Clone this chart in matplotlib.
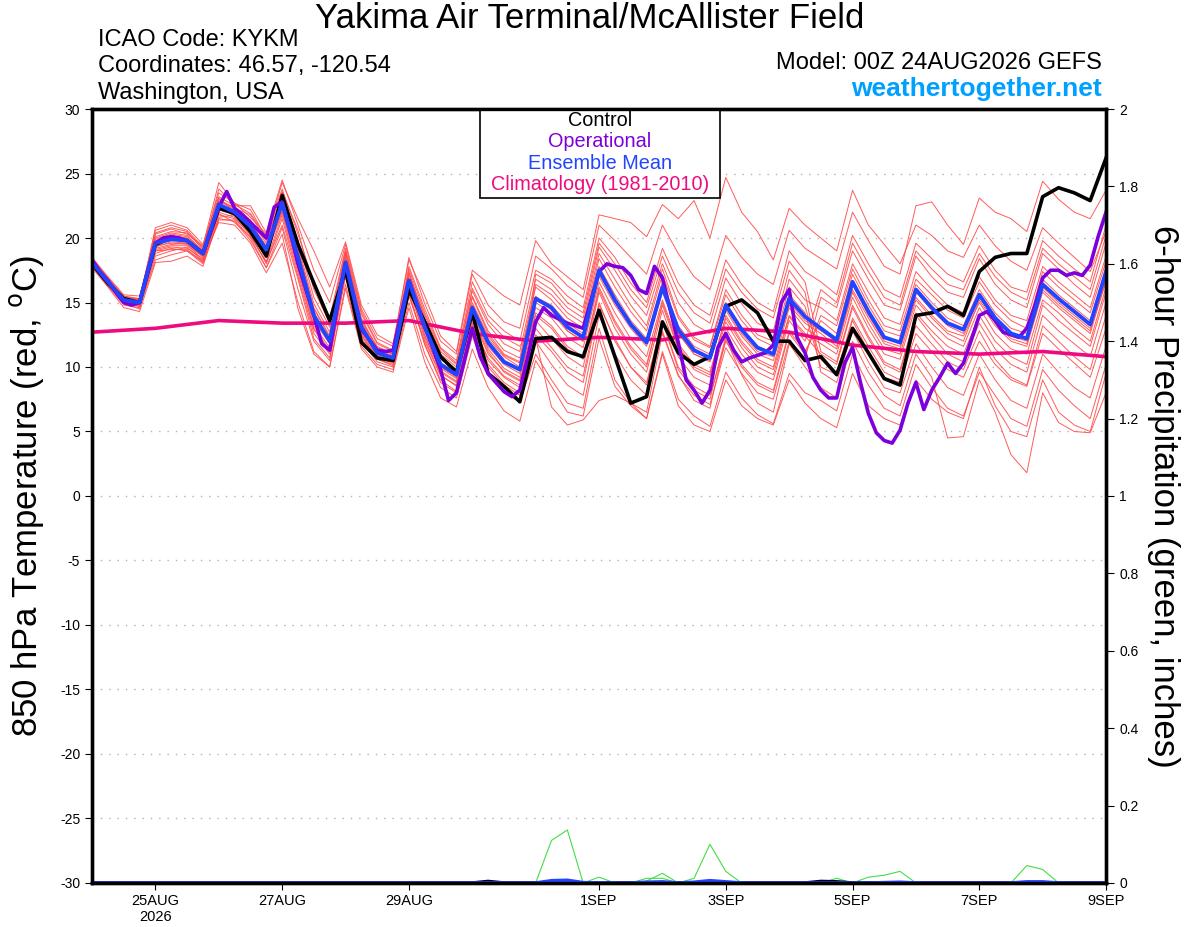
import numpy as np
import matplotlib
matplotlib.use('Agg')
import matplotlib.pyplot as plt
from matplotlib.patches import Rectangle

plt.rcParams['font.family'] = ['Liberation Sans', 'DejaVu Sans']
plt.rcParams['axes.unicode_minus'] = False

# forecast hours (6-hourly for ensemble, 3-hourly for operational)
hours_6 = np.arange(0, 385, 6)
hours_3 = np.arange(0, 385, 3)
clim_days = np.arange(0, 17)

tick_days = [1, 3, 5, 8, 10, 12, 14, 16]
tick_labels = ['25AUG\n2026', '27AUG', '29AUG', '1SEP', '3SEP', '5SEP', '7SEP', '9SEP']

# 850 hPa temperature, ensemble mean
ens_mean = [18.1, 16.6, 15.2, 15.0, 19.6, 19.9, 19.8, 18.8, 22.6, 22.0, 20.9, 19.1, 22.7,
            18.5, 14.0, 12.0, 18.1, 13.1, 11.1, 10.7, 16.7, 13.1, 10.2, 9.4, 14.6, 11.9, 10.4, 9.8,
            15.3, 14.6, 13.1, 12.3, 17.5, 15.2, 13.3, 11.9, 16.2, 12.9, 11.3, 10.7, 14.8, 12.9, 11.5, 11.0, 15.3, 13.9,
            13.0, 12.1, 16.6, 14.3, 12.3, 11.9, 16.0, 14.6, 13.4, 12.9, 15.6, 13.8, 12.6, 12.2, 16.4, 15.3, 14.3, 13.3, 17.4]

control = [18.0, 16.5, 15.3, 15.0, 19.5, 20.0, 19.8, 18.8, 22.3, 21.9, 20.5, 18.6, 23.3,
           19.5, 16.5, 13.6, 17.5, 11.9, 10.7, 10.5, 16.0, 13.5, 10.8, 9.6, 14.2, 9.5, 8.5, 7.3,
           12.2, 12.3, 11.2, 10.8, 14.4, 10.8, 7.2, 7.7, 13.5, 11.1, 10.2, 10.8, 14.7, 15.2, 14.2, 12.0, 12.0, 10.5,
           10.8, 9.4, 13.0, 11.1, 9.1, 8.6, 14.0, 14.2, 14.7, 14.0, 17.4, 18.5, 18.8, 18.8, 23.2, 23.9, 23.5, 22.9, 26.2]

operational = [18.3, 17.4, 16.7, 15.8, 15.0, 14.8, 15.0, 17.4, 19.6, 20.0, 20.1, 20.0, 19.8, 19.3, 18.8, 20.6,
               22.4, 23.6, 22.3, 21.8, 21.2, 20.6, 20.0, 22.4, 22.8, 20.5, 18.0, 16.0, 14.0, 11.8, 11.3, 14.8,
               18.1, 15.5, 12.9, 12.1, 11.3, 11.2, 11.3, 14.0, 16.7, 14.9, 13.1, 11.5, 9.8, 7.4, 8.0, 10.5,
               13.0, 10.8, 9.5, 8.8, 8.1, 7.7, 8.2, 10.8, 13.5, 14.6, 14.0, 13.7, 13.4, 13.2, 13.0, 15.2,
               17.4, 18.0, 17.8, 17.7, 17.1, 16.0, 15.7, 17.8, 16.9, 14.4, 11.9, 9.0, 8.2, 7.2, 8.2, 11.5,
               12.6, 11.3, 10.4, 10.7, 10.9, 11.1, 11.7, 15.0, 16.0, 12.3, 11.1, 9.2, 8.2, 7.6, 7.6, 10.3,
               11.5, 8.8, 6.4, 4.9, 4.3, 4.1, 5.1, 7.2, 8.8, 6.7, 8.2, 9.2, 10.3, 9.5, 10.3, 12.1,
               14.0, 14.3, 13.6, 12.7, 12.5, 12.3, 13.0, 14.7, 16.9, 17.5, 17.5, 17.1, 17.3, 17.1, 17.9, 20.1,
               22.0]

climatology = [12.7, 13.0, 13.6, 13.4, 13.4, 13.6, 12.6, 12.0, 12.3, 12.1, 13.0, 12.7, 11.7, 11.2, 11.0, 11.2, 10.8]

members = [
    [18.4, 16.9, 15.4, 15.3, 20.6, 21.0, 20.6, 19.3, 23.5, 22.7, 22.2, 20.0, 24.3,
     21.5, 19.0, 16.2, 19.7, 14.8, 12.5, 11.8, 18.3, 15.5, 12.4, 11.2, 17.5, 16.5, 15.5, 14.8,
     19.8, 18.0, 17.0, 16.0, 21.8, 21.5, 21.2, 20.1, 22.6, 21.5, 22.9, 20.0, 24.7, 22.0, 20.5, 18.3, 22.3, 21.0,
     20.0, 19.0, 23.7, 21.0, 19.5, 18.0, 21.0, 20.2, 19.0, 18.5, 21.0, 19.4, 18.2, 17.5, 20.8, 19.6, 18.5, 17.4, 20.5],
    [17.8, 16.3, 14.8, 14.6, 18.3, 18.7, 19.0, 18.0, 21.4, 21.4, 20.0, 17.7, 20.8,
     16.0, 12.0, 10.5, 17.2, 12.0, 10.4, 10.0, 15.5, 12.0, 9.3, 8.6, 13.6, 10.5, 9.2, 8.4,
     13.0, 11.5, 10.0, 9.3, 15.0, 12.0, 10.0, 8.8, 13.6, 10.0, 8.5, 7.8, 12.0, 10.0, 8.6, 8.0, 12.6, 11.0,
     14.0, 13.2, 17.6, 15.2, 13.2, 12.8, 16.8, 15.6, 14.4, 13.8, 16.6, 14.8, 13.6, 13.0, 17.4, 16.2, 15.2, 14.2, 18.2],
    [18.2, 16.7, 15.0, 14.8, 19.9, 20.3, 20.1, 19.0, 22.9, 22.2, 20.6, 18.5, 22.9,
     18.8, 14.6, 12.4, 18.8, 13.6, 11.6, 11.0, 17.4, 13.6, 10.8, 9.8, 15.5, 12.8, 11.3, 10.7,
     16.4, 15.6, 14.2, 13.4, 18.8, 16.8, 14.8, 13.2, 17.6, 14.0, 12.3, 11.6, 16.0, 14.0, 12.5, 12.0, 16.8, 15.2,
     14.6, 13.6, 18.0, 15.8, 13.8, 13.3, 17.4, 16.0, 14.8, 14.2, 17.0, 15.2, 14.0, 13.6, 17.8, 16.6, 15.6, 14.6, 18.6],
    [17.9, 16.4, 14.9, 14.5, 18.8, 19.2, 19.0, 18.2, 21.8, 21.5, 20.3, 18.0, 21.5,
     17.0, 12.6, 11.0, 17.6, 12.6, 10.8, 10.4, 16.0, 12.4, 9.7, 8.9, 13.8, 11.0, 9.7, 9.0,
     12.0, 10.2, 8.6, 7.8, 14.0, 11.0, 9.0, 7.8, 12.8, 9.3, 7.8, 7.1, 11.5, 9.5, 8.0, 7.5, 12.0, 10.6,
     15.4, 14.6, 19.0, 16.8, 14.8, 14.4, 18.6, 17.0, 15.8, 15.4, 18.4, 16.4, 15.2, 14.6, 18.8, 17.6, 16.4, 15.4, 19.6],
    [18.3, 16.8, 15.5, 15.2, 20.3, 20.7, 20.3, 19.4, 24.3, 22.7, 21.6, 20.3, 23.8,
     20.3, 16.5, 13.8, 19.2, 14.3, 11.9, 11.3, 17.8, 14.5, 11.5, 10.5, 16.6, 14.0, 12.8, 12.0,
     17.5, 16.8, 15.5, 14.6, 20.0, 18.5, 16.5, 15.0, 19.2, 16.5, 14.8, 14.0, 18.3, 16.4, 15.0, 14.3, 19.0, 17.4,
     16.6, 15.6, 20.2, 18.0, 16.0, 15.4, 19.6, 18.4, 17.2, 16.6, 19.4, 17.5, 16.2, 15.8, 19.8, 18.6, 17.6, 16.6, 21.0],
    [18.0, 16.5, 15.1, 14.9, 19.2, 19.5, 19.6, 18.5, 22.2, 21.9, 21.2, 19.4, 23.0,
     19.0, 14.2, 11.8, 18.0, 13.0, 11.0, 10.6, 16.6, 13.3, 10.3, 9.6, 14.8, 12.2, 10.8, 10.0,
     15.5, 14.4, 12.8, 12.0, 17.2, 15.0, 13.2, 11.8, 16.4, 12.6, 11.0, 10.5, 14.6, 12.6, 11.2, 10.8, 15.0, 13.6,
     12.8, 12.0, 16.4, 14.0, 12.0, 11.6, 15.8, 14.4, 13.2, 12.6, 15.4, 13.6, 12.4, 12.0, 16.2, 15.0, 14.0, 13.0, 17.0],
    [18.1, 16.5, 15.0, 14.7, 19.0, 19.3, 19.2, 18.4, 21.2, 21.0, 19.6, 17.3, 19.6,
     15.0, 11.2, 10.0, 16.4, 11.6, 10.2, 9.8, 15.0, 11.0, 8.4, 7.6, 12.4, 9.3, 8.0, 7.3,
     11.0, 9.0, 7.2, 6.8, 13.0, 9.0, 7.2, 6.0, 11.2, 7.5, 6.2, 5.4, 9.6, 7.6, 6.3, 5.6, 9.5, 8.0,
     7.4, 6.6, 11.0, 8.6, 6.8, 6.2, 10.2, 8.4, 6.8, 6.2, 9.6, 7.8, 6.0, 5.4, 9.8, 8.2, 7.0, 6.0, 10.2],
    [18.5, 17.0, 15.6, 15.5, 20.0, 20.4, 20.2, 19.0, 22.8, 22.4, 21.4, 19.6, 23.5,
     19.8, 15.4, 13.1, 18.9, 13.8, 11.4, 11.0, 17.1, 14.0, 11.2, 10.2, 15.9, 13.3, 11.8, 11.2,
     16.8, 16.0, 14.6, 13.8, 19.3, 17.5, 15.5, 14.0, 18.0, 15.0, 13.3, 12.6, 16.9, 14.9, 13.4, 12.8, 17.5, 15.8,
     9.6, 8.8, 12.8, 10.4, 8.4, 8.0, 11.8, 10.0, 8.4, 7.8, 11.0, 9.0, 7.4, 6.8, 11.0, 9.6, 8.4, 7.6, 11.6],
    [17.7, 16.2, 14.6, 14.3, 18.1, 18.2, 18.6, 17.8, 21.6, 21.8, 20.7, 18.8, 22.1,
     17.6, 13.0, 11.3, 17.5, 12.4, 10.6, 10.1, 15.8, 11.7, 9.0, 8.1, 13.4, 10.0, 8.6, 7.8,
     17.2, 16.5, 15.0, 14.2, 19.6, 18.0, 16.0, 14.6, 18.6, 15.8, 14.2, 13.4, 17.6, 15.8, 14.5, 13.8, 18.2, 16.6,
     11.2, 10.4, 14.8, 12.4, 10.4, 9.8, 14.0, 12.4, 11.0, 10.4, 13.4, 11.4, 10.2, 9.6, 14.0, 12.8, 11.8, 10.8, 15.0],
    [18.2, 16.6, 15.3, 15.1, 20.8, 21.2, 20.8, 19.5, 23.2, 22.5, 22.5, 20.4, 24.5,
     21.0, 17.5, 15.0, 19.5, 14.5, 12.2, 11.6, 18.5, 14.9, 12.0, 11.0, 17.2, 14.8, 13.5, 13.0,
     18.6, 17.6, 16.3, 15.4, 21.0, 19.8, 18.5, 17.2, 21.0, 18.8, 17.0, 16.0, 20.2, 18.5, 17.2, 16.4, 20.6, 19.2,
     18.4, 17.6, 22.0, 19.8, 17.8, 17.2, 22.5, 22.8, 21.0, 19.5, 23.1, 22.0, 21.5, 20.5, 24.4, 23.0, 22.0, 21.5, 23.7],
    [18.0, 16.6, 15.2, 15.0, 19.5, 19.9, 19.7, 18.7, 22.4, 21.7, 20.8, 19.2, 22.4,
     18.2, 13.6, 11.8, 18.2, 13.2, 11.2, 10.8, 16.9, 13.0, 10.0, 9.2, 14.4, 11.6, 10.2, 9.5,
     15.0, 14.2, 12.8, 12.0, 17.0, 14.8, 13.0, 11.6, 15.8, 12.6, 11.0, 10.4, 14.4, 12.4, 11.0, 10.5, 14.8, 13.4,
     12.6, 11.6, 16.0, 13.8, 11.8, 11.4, 15.4, 14.0, 12.8, 12.4, 15.0, 13.2, 12.0, 11.6, 15.8, 14.6, 13.6, 12.6, 16.8],
    [18.3, 16.8, 15.3, 15.1, 19.7, 20.1, 19.9, 18.9, 22.7, 22.1, 21.0, 18.9, 22.6,
     18.5, 13.8, 12.1, 18.3, 13.3, 11.3, 10.9, 16.6, 12.8, 9.9, 9.1, 14.2, 11.4, 9.9, 9.2,
     14.6, 13.8, 12.3, 11.5, 16.6, 14.2, 12.2, 10.8, 15.2, 11.8, 10.2, 9.6, 13.8, 11.8, 10.4, 9.8, 14.0, 12.6,
     11.8, 11.0, 15.4, 13.0, 11.0, 10.6, 14.8, 13.4, 12.2, 11.6, 14.6, 12.6, 11.4, 11.0, 15.2, 14.2, 13.0, 12.0, 16.2],
    [17.9, 16.4, 15.0, 14.8, 19.4, 19.6, 19.5, 18.3, 22.0, 21.6, 20.2, 18.1, 21.0,
     16.8, 12.2, 10.7, 17.0, 12.2, 10.6, 10.2, 15.6, 11.8, 8.8, 8.0, 13.0, 10.2, 8.8, 8.0,
     12.5, 11.2, 9.6, 8.8, 14.8, 12.2, 10.0, 8.6, 13.5, 9.8, 8.2, 7.5, 12.4, 10.2, 8.8, 8.2, 12.8, 11.2,
     13.6, 12.6, 17.2, 14.8, 12.8, 12.4, 16.4, 15.0, 13.8, 13.2, 16.0, 14.2, 13.0, 12.6, 16.8, 15.6, 14.6, 13.6, 17.6],
    [18.1, 16.7, 15.4, 15.2, 20.1, 20.5, 20.4, 19.2, 23.0, 22.3, 21.8, 19.8, 23.2,
     19.4, 14.9, 12.7, 18.6, 13.5, 11.5, 11.1, 17.3, 13.8, 11.0, 10.0, 15.4, 12.6, 11.0, 10.4,
     16.2, 15.2, 13.8, 13.0, 18.4, 16.2, 14.3, 12.8, 17.2, 13.8, 12.1, 11.5, 15.6, 13.6, 12.2, 11.6, 16.2, 14.7,
     10.6, 9.6, 13.6, 11.2, 9.2, 8.8, 12.6, 11.2, 9.8, 9.2, 12.0, 10.2, 9.0, 8.5, 12.6, 11.4, 10.3, 9.2, 13.0],
    [18.2, 16.5, 15.1, 15.0, 19.1, 19.4, 19.4, 18.6, 22.5, 21.8, 20.4, 18.7, 22.0,
     18.0, 13.2, 11.5, 17.8, 12.8, 10.9, 10.5, 16.3, 12.5, 9.6, 8.8, 13.9, 11.2, 9.6, 8.9,
     14.2, 13.2, 11.6, 10.8, 16.2, 13.6, 11.6, 10.2, 14.8, 11.4, 9.8, 9.2, 13.5, 11.5, 10.0, 9.4, 13.9, 12.4,
     11.0, 10.2, 14.6, 12.2, 10.2, 9.6, 14.2, 12.8, 11.6, 11.0, 14.0, 12.0, 10.8, 10.2, 14.8, 13.6, 12.6, 11.6, 15.8],
    [17.8, 16.3, 14.9, 14.7, 18.6, 19.0, 19.3, 18.2, 21.9, 21.2, 20.1, 18.2, 21.8,
     17.3, 12.9, 11.2, 17.3, 12.5, 10.7, 10.3, 16.2, 12.2, 9.4, 8.5, 13.2, 10.7, 9.3, 8.6,
     12.2, 6.9, 5.5, 5.9, 7.4, 7.8, 7.2, 6.5, 12.6, 9.4, 7.4, 6.8, 12.2, 9.4, 7.2, 6.5, 11.8, 10.0,
     8.4, 7.6, 12.0, 9.6, 7.8, 7.0, 11.0, 9.2, 4.5, 4.6, 9.0, 6.5, 3.2, 1.8, 8.0, 5.7, 5.0, 4.9, 8.0],
    [18.4, 16.9, 15.5, 15.3, 20.4, 20.8, 20.5, 19.1, 23.8, 22.6, 21.9, 20.1, 23.6,
     20.6, 16.0, 13.4, 19.0, 14.1, 11.8, 11.2, 17.6, 14.2, 11.4, 10.3, 16.1, 13.6, 12.3, 11.6,
     13.6, 12.2, 10.8, 10.0, 15.8, 13.0, 11.0, 9.6, 14.4, 10.8, 9.2, 8.6, 13.0, 11.0, 9.6, 9.0, 13.6, 12.0,
     16.0, 15.0, 19.6, 17.4, 15.4, 14.8, 19.0, 17.6, 16.4, 16.0, 18.8, 17.0, 15.8, 15.2, 19.2, 18.0, 17.0, 16.0, 20.2],
    [18.0, 16.5, 15.0, 14.8, 19.3, 19.7, 19.6, 18.6, 22.3, 21.9, 20.6, 19.0, 22.3,
     18.6, 14.0, 12.0, 18.1, 13.0, 11.0, 10.6, 16.4, 12.9, 10.1, 9.3, 14.6, 11.8, 10.4, 9.7,
     15.4, 14.8, 13.4, 12.6, 17.8, 15.6, 13.6, 12.2, 16.6, 13.2, 11.6, 11.0, 15.0, 13.0, 11.6, 11.1, 15.6, 14.2,
     10.0, 9.4, 13.8, 11.6, 9.6, 9.0, 13.2, 11.8, 10.4, 9.8, 12.8, 10.6, 9.2, 8.6, 13.2, 12.0, 10.8, 9.8, 14.0],
    [18.2, 16.7, 15.2, 15.0, 19.8, 20.2, 20.0, 18.9, 23.1, 22.0, 21.1, 19.3, 22.8,
     19.2, 14.5, 12.3, 18.4, 13.4, 11.2, 10.8, 16.8, 13.5, 10.6, 9.7, 15.0, 12.4, 10.9, 10.3,
     14.0, 13.0, 11.4, 10.6, 16.0, 13.4, 11.4, 10.0, 15.0, 11.6, 10.0, 9.4, 14.0, 12.0, 10.6, 10.0, 14.6, 13.0,
     12.2, 11.4, 15.8, 13.4, 11.4, 11.0, 15.2, 13.8, 12.6, 12.0, 15.2, 13.4, 12.2, 11.8, 16.0, 14.8, 13.8, 12.8, 16.6],
    [17.9, 16.4, 15.1, 14.9, 19.0, 19.1, 19.1, 18.1, 21.5, 21.3, 19.8, 17.7, 20.3,
     14.5, 11.0, 10.0, 16.1, 11.4, 10.0, 9.6, 14.6, 10.4, 7.6, 6.9, 11.4, 8.4, 6.6, 5.8,
     10.5, 8.5, 6.5, 6.2, 12.2, 8.5, 7.0, 6.0, 11.0, 7.0, 5.5, 5.0, 9.0, 7.0, 6.0, 5.5, 9.0, 7.2,
     6.0, 5.3, 9.5, 7.0, 6.0, 5.5, 9.0, 7.5, 6.5, 6.0, 10.0, 7.0, 5.0, 4.6, 9.0, 6.5, 5.5, 5.0, 9.5],
]

# 6-hour precipitation (inches)
precip_a = [0] * 28 + [0.0, 0.11, 0.137, 0.0, 0.015, 0.0] + [0] * 31
precip_b = [0] * 34 + [0.0, 0.012, 0.012, 0.0, 0.012, 0.10, 0.03, 0.0] + [0] * 5 + [0.012, 0.0] + [0] * 16
precip_c = [0] * 35 + [0.005, 0.025, 0.0] + [0] * 11 + [0.015, 0.02, 0.03, 0.0] + [0] * 6 + [0.045, 0.035, 0.0] + [0] * 3
precip_mean = [0] * 29 + [0.006, 0.007, 0.001] + [0] * 3 + [0.002, 0.003, 0.0, 0.002, 0.006, 0.003] + [0] * 9 + \
              [0.001, 0.002] + [0] * 7 + [0.003, 0.003] + [0] * 4
precip_ctl = [0] * 25 + [0.004] + [0] * 20 + [0.004, 0.003] + [0] * 17
precip_op = [0.0] * 129

days_6 = hours_6 / 24.0
days_3 = hours_3 / 24.0

fig = plt.figure(figsize=(12, 9.27), dpi=100)
ax = fig.add_axes([0.0767, 0.0475, 0.845, 0.8349])
ax2 = ax.twinx()

for m in members:
    ax.plot(days_6, m, color='#ff4a4a', lw=0.7, alpha=0.9, zorder=2)
ax.plot(clim_days, climatology, color='#ee0a80', lw=2.6, zorder=3)
ax.plot(days_6, control, color='black', lw=2.6, zorder=4)
ax.plot(days_3, operational, color='#7d00dc', lw=2.6, zorder=5)
ax.plot(days_6, ens_mean, color='#2244ff', lw=2.8, zorder=6)

for p in [precip_a, precip_b, precip_c]:
    ax2.plot(days_6, p, color='#44dd44', lw=0.8)
ax2.plot(days_6, precip_ctl, color='black', lw=2.5)
ax2.plot(days_3, precip_op, color='#7d00dc', lw=2.5)
ax2.plot(days_6, precip_mean, color='#2244ff', lw=2.5)

ax.set_xlim(0, 16)
ax.set_ylim(-30, 30)
ax2.set_ylim(0, 2)

ax.set_yticks(np.arange(-30, 31, 5))
for y in np.arange(-25, 30, 5):
    ax.axhline(y, color='#b0b0b0', lw=1.0, ls=(0, (1, 5)), zorder=1)
ax2.set_yticks(np.arange(0, 2.01, 0.2))
ax2.set_yticklabels(['0', '0.2', '0.4', '0.6', '0.8', '1', '1.2', '1.4', '1.6', '1.8', '2'])

ax.set_xticks(tick_days)
ax.set_xticklabels(tick_labels)
ax.tick_params(axis='x', direction='out', length=5, labelsize=10.5, pad=3)
ax.tick_params(axis='y', direction='out', length=5, labelsize=10)
ax2.tick_params(axis='y', direction='out', length=6, labelsize=10)

for a in (ax, ax2):
    for s in a.spines.values():
        s.set_linewidth(2.4)

ax.set_ylabel('850 hPa Temperature (red, $^{\\mathrm{o}}$C)', fontsize=25, labelpad=10)
ax2.set_ylabel('6-hour Precipitation (green, inches)', fontsize=25, rotation=270, labelpad=30)

# legend box
ax.add_patch(Rectangle((0.3826, 0.885), 0.2367, 0.115, transform=ax.transAxes,
                       facecolor='white', edgecolor='black', lw=1.2, zorder=10, clip_on=False))
leg_items = [('Control', 'black'), ('Operational', '#7d00dc'),
             ('Ensemble Mean', '#2244ff'), ('Climatology (1981-2010)', '#ee0a80')]
for k, (txt, col) in enumerate(leg_items):
    ax.text(0.5009, 0.985 - k * 0.0275, txt, color=col, fontsize=14.3, ha='center', va='center',
            transform=ax.transAxes, zorder=11)

fig.text(0.4917, 0.980, 'Yakima Air Terminal/McAllister Field', fontsize=25, ha='center', va='center')
fig.text(0.0817, 0.957, 'ICAO Code: KYKM', fontsize=17, ha='left', va='center')
fig.text(0.0817, 0.929, 'Coordinates: 46.57, -120.54', fontsize=17, ha='left', va='center')
fig.text(0.0817, 0.900, 'Washington, USA', fontsize=17, ha='left', va='center')
fig.text(0.9183, 0.932, 'Model: 00Z 24AUG2026 GEFS', fontsize=17, ha='right', va='center')
fig.text(0.9183, 0.904, 'weathertogether.net', fontsize=19, ha='right', va='center',
         color='#00a0ff', fontweight='bold')

fig.savefig('out.png', dpi=100)
